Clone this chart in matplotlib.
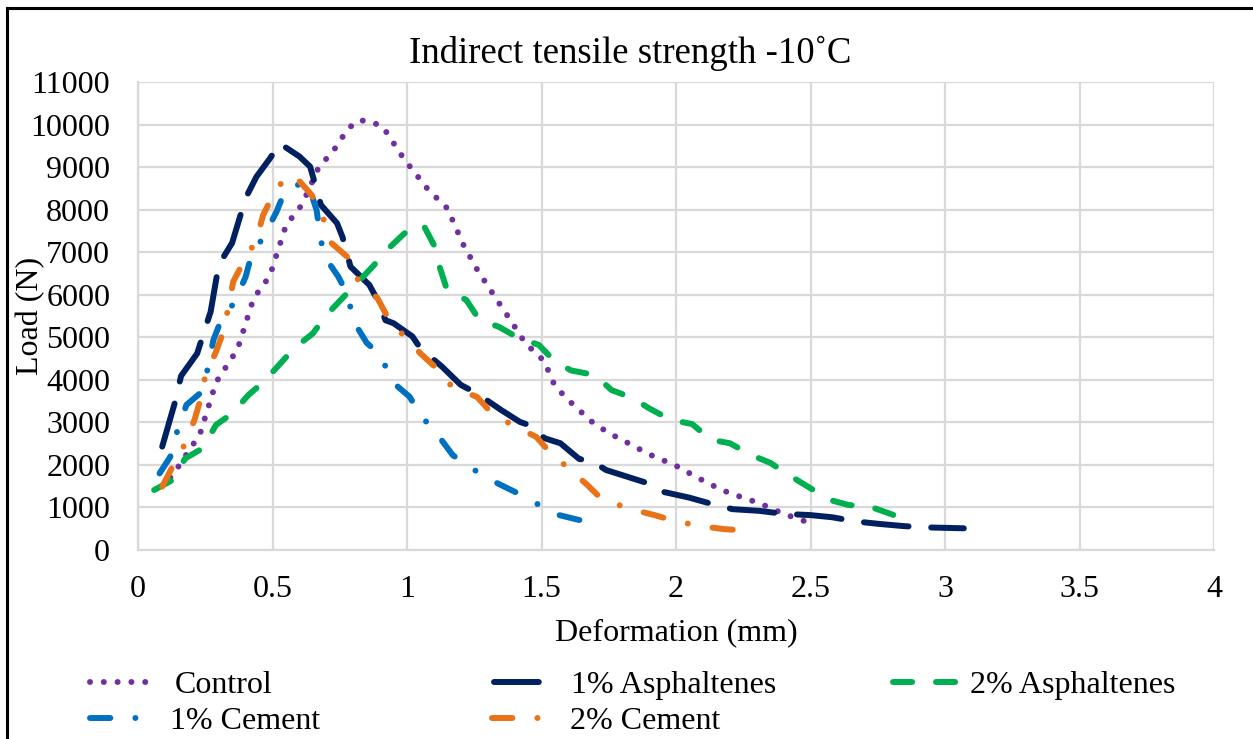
import matplotlib
matplotlib.use("Agg")
import matplotlib.pyplot as plt
from matplotlib.lines import Line2D

plt.rcParams['font.family'] = ['Liberation Serif', 'DejaVu Serif']

# ---------------- data ----------------
control_x = [0.12, 0.15, 0.23, 0.29, 0.37, 0.43, 0.49, 0.55, 0.61, 0.67, 0.735, 0.78, 0.82, 0.86, 0.91,
             0.99, 1.08, 1.15, 1.21, 1.26, 1.33, 1.39, 1.44, 1.51, 1.55, 1.62, 1.69, 1.75, 1.82, 1.90,
             2.00, 2.08, 2.17, 2.24, 2.31, 2.40, 2.50]
control_y = [1700, 1960, 2720, 3940, 4720, 5920, 6440, 7630, 8120, 8970, 9460, 9900, 10100, 10080, 9950,
             9180, 8460, 8030, 7170, 6600, 5920, 5350, 4860, 4440, 3850, 3400, 3000, 2750, 2520, 2250,
             1980, 1700, 1410, 1250, 1100, 850, 630]

asph1_x = [0.09, 0.14, 0.16, 0.22, 0.24, 0.27, 0.30, 0.35, 0.40, 0.44, 0.49, 0.53, 0.545, 0.60, 0.62,
           0.64, 0.68, 0.74, 0.76, 0.79, 0.86, 0.89, 0.92, 0.95, 1.02, 1.05, 1.13, 1.20, 1.26, 1.35,
           1.42, 1.47, 1.51, 1.57, 1.64, 1.69, 1.74, 1.80, 1.89, 1.95, 2.05, 2.14, 2.21, 2.31, 2.40,
           2.50, 2.58, 2.67, 2.76, 2.85, 2.94, 3.07]
asph1_y = [2430, 3530, 4090, 4620, 5020, 5600, 6700, 7220, 8270, 8770, 9200, 9570, 9480, 9250, 9130,
           9010, 8110, 7680, 7360, 6660, 6230, 5880, 5400, 5330, 5020, 4740, 4310, 3880, 3680, 3290,
           3010, 2900, 2630, 2510, 2140, 2080, 1880, 1760, 1580, 1370, 1230, 1070, 960, 920, 850,
           820, 770, 670, 610, 560, 530, 510]

asph2_x = [0.06, 0.13, 0.175, 0.24, 0.29, 0.35, 0.41, 0.47, 0.53, 0.58, 0.65, 0.70, 0.76, 0.82, 0.875,
           0.925, 0.99, 1.06, 1.10, 1.12, 1.15, 1.22, 1.27, 1.34, 1.41, 1.49, 1.55, 1.61, 1.70, 1.76,
           1.84, 1.90, 1.98, 2.06, 2.13, 2.20, 2.28, 2.35, 2.42, 2.49, 2.57, 2.64, 2.73, 2.81]
asph2_y = [1410, 1650, 2150, 2390, 2940, 3210, 3640, 3970, 4390, 4740, 5090, 5520, 5920, 6310, 6680,
           7050, 7440, 7650, 7170, 6680, 6090, 5880, 5400, 5250, 5000, 4820, 4430, 4220, 4110, 3760,
           3570, 3330, 3060, 2960, 2590, 2510, 2230, 2050, 1760, 1490, 1180, 1060, 1000, 820]

cem1_x = [0.08, 0.12, 0.146, 0.18, 0.23, 0.26, 0.28, 0.305, 0.36, 0.40, 0.42, 0.47, 0.515, 0.545, 0.60,
          0.633, 0.664, 0.674, 0.69, 0.745, 0.78, 0.80, 0.85, 0.905, 0.94, 1.01, 1.05, 1.11, 1.17,
          1.23, 1.31, 1.40, 1.46, 1.54, 1.63, 1.71]
cem1_y = [1800, 2190, 2800, 3410, 3680, 4270, 4930, 5340, 5840, 6420, 6890, 7400, 7950, 8420, 8600,
          8580, 7990, 7520, 6930, 6420, 5990, 5390, 4870, 4560, 3980, 3600, 3170, 2740, 2230,
          1960, 1650, 1370, 1180, 860, 720, 610]

cem2_x = [0.09, 0.125, 0.17, 0.21, 0.23, 0.25, 0.29, 0.315, 0.336, 0.354, 0.39, 0.44, 0.465, 0.50, 0.553,
          0.60, 0.646, 0.69, 0.72, 0.78, 0.82, 0.89, 0.93, 0.99, 1.05, 1.11, 1.17, 1.26, 1.31, 1.39,
          1.48, 1.53, 1.60, 1.67, 1.72, 1.82, 1.92, 1.98, 2.08, 2.18, 2.23]
cem2_y = [1490, 1920, 2440, 3060, 3490, 4090, 4660, 5090, 5700, 6310, 6740, 7290, 7870, 8320, 8810,
          8670, 8340, 7770, 7210, 6880, 6320, 5920, 5450, 5020, 4620, 4270, 3820, 3600, 3250, 2940,
          2660, 2310, 1920, 1530, 1220, 980, 820, 710, 570, 490, 470]

series_names = ["Control", "1% Asphaltenes", "2% Asphaltenes", "1% Cement", "2% Cement"]
x_ticks = [0, 0.5, 1, 1.5, 2, 2.5, 3, 3.5, 4]
x_tick_labels = ["0", "0.5", "1", "1.5", "2", "2.5", "3", "3.5", "4"]
y_ticks = list(range(0, 11001, 1000))
title_text = "Indirect tensile strength -10˚C"

# ---------------- styles ----------------
colors = ['#7030A0', '#002060', '#00B050', '#0070C0', '#E97318']
dashes = [(0, (0.01, 2.3)),
          (0, (7.5, 3.8)),
          (0, (3.2, 4.0)),
          (0, (3.4, 4.2, 0.01, 4.2)),
          (0, (3.4, 4.2, 0.01, 4.2))]
LW = 4.3
FS = 23

W, H = 1253, 739
fig = plt.figure(figsize=(W / 100, H / 100), dpi=100)
ax = fig.add_axes([138 / W, 1 - 550 / H, (1214 - 138) / W, (550 - 82) / H])

data = [(control_x, control_y), (asph1_x, asph1_y), (asph2_x, asph2_y),
        (cem1_x, cem1_y), (cem2_x, cem2_y)]
for (xs, ys), name, c, ls in zip(data, series_names, colors, dashes):
    ax.plot(xs, ys, color=c, lw=LW, linestyle=ls, dash_capstyle='round',
            solid_capstyle='round', dash_joinstyle='round', label=name, zorder=3)

ax.set_xlim(0, 4)
ax.set_ylim(0, 11000)
ax.set_xticks(x_ticks)
ax.set_xticklabels(x_tick_labels)
ax.set_yticks(y_ticks)
ax.grid(True, color='#D9D9D9', lw=1.6, zorder=0)
ax.set_axisbelow(True)
for s in ['top', 'right']:
    ax.spines[s].set_visible(False)
for s in ['left', 'bottom']:
    ax.spines[s].set_color('#D9D9D9')
    ax.spines[s].set_linewidth(1.6)
ax.tick_params(axis='both', length=0, labelsize=FS, colors='black')
ax.tick_params(axis='x', pad=18)
ax.tick_params(axis='y', pad=20)

fig.text(630 / W, 1 - 63 / H, title_text, fontsize=26.5, ha='center', va='baseline')
ax.set_xlabel("Deformation (mm)", fontsize=FS, labelpad=10)
ax.set_ylabel("Load (N)", fontsize=FS)
ax.yaxis.set_label_coords((45 - 138) / 1076, 0.5)

# ---------------- legend ----------------
handles = [Line2D([0], [0], color=c, lw=LW, linestyle=ls, dash_capstyle='round',
                  solid_capstyle='round') for c, ls in zip(colors, dashes)]
positions = [(90, 685), (494, 685), (893, 685), (90, 721), (492, 721)]
hlens = [1.87, 1.63, 2.35, 1.7, 1.75]
tpads = [0.78, 0.78, 0.05, 0.8, 0.7]
for h, name, (px, py), hl, tp in zip(handles, series_names, positions, hlens, tpads):
    fig.legend([h], [name], loc='center left', bbox_to_anchor=(px / W, 1 - py / H),
               frameon=False, borderpad=0, borderaxespad=0, handlelength=hl,
               handletextpad=tp, fontsize=FS)

# figure frame (left and top edges visible)
fig.add_artist(Line2D([7 / W, 7 / W], [0, 1 - 8 / H], color='black', lw=2.2))
fig.add_artist(Line2D([7 / W, 1], [1 - 8 / H, 1 - 8 / H], color='black', lw=2.2))

fig.savefig("out.png", dpi=100)
